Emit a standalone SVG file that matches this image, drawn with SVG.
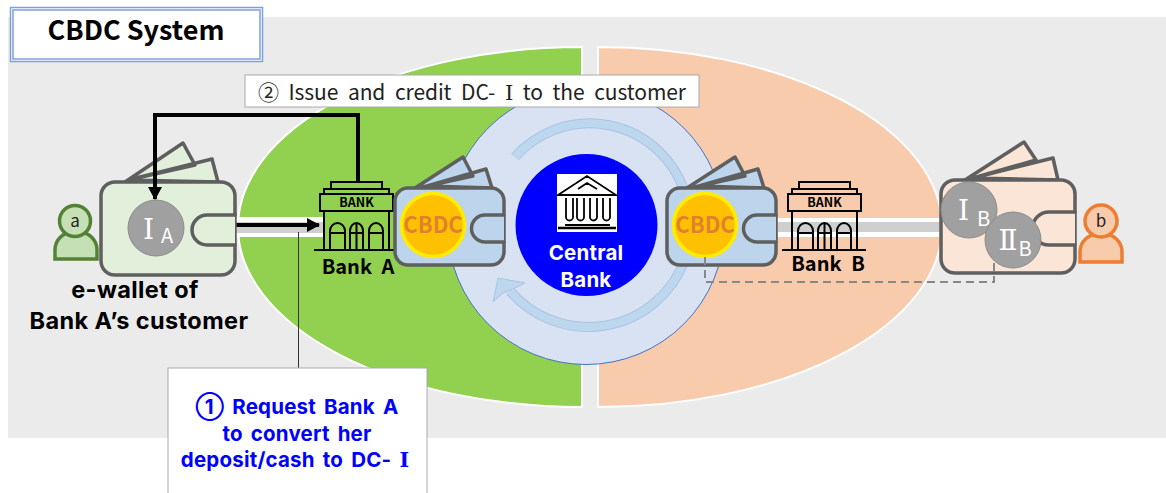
<svg xmlns="http://www.w3.org/2000/svg" width="1166" height="493" viewBox="0 0 1166 493">
<style>
text{font-family:"Noto Sans CJK KR","Noto Sans",sans-serif;text-anchor:middle}
.b{font-weight:700}
.t{font-family:Inter,"Noto Sans CJK KR",sans-serif}
.r{font-family:"DejaVu Serif","Noto Sans CJK KR",serif;font-weight:400}
.rb{font-family:"DejaVu Serif","Noto Sans CJK KR",serif;font-weight:700}
.w{stroke:#5f5f5f;stroke-width:3.500;stroke-linejoin:round;stroke-linecap:round}
.bank{fill:none;stroke:#000;stroke-width:2}
.coinT{font-size:22px;font-weight:700;fill:#e0812f}
.num{fill:#fff;font-size:28px}
.sub{font-size:20px;font-family:"Noto Sans CJK KR","Noto Sans",sans-serif}
.pill{fill:#fff}
.pg{fill:#cfcfcf}
.arcO{fill:none;stroke:#a9c3e3;stroke-width:10}
.arcI{fill:none;stroke:#bdd7ee;stroke-width:8}
</style>
<defs>
<g id="bankIcon">
<rect class="bank" x="331" y="182" width="51" height="7"/>
<rect class="bank" x="324" y="189" width="65" height="5"/>
<rect class="bank" x="320" y="194" width="73" height="17"/>
<path class="bank" d="M324 211V250M389 211V250M314 250H398"/>
<path class="bank" d="M330 250V231a7.500 8 0 0 1 15 0V250M330 233H345M350 250V231a6.500 8 0 0 1 13 0V250M350 233H363M356.500 223V250M369 250V231a7 8 0 0 1 14 0V250M369 233H383"/>
<text x="356.500" y="207" font-size="12.500" font-weight="700">BANK</text>
</g>
<g id="blueWallet">
<path class="w" fill="#bdd5ec" d="M415 188L463 157L473 176L427 186ZM427 186L486 169L492 188Z"/>
<rect class="w" fill="#bdd5ec" x="395" y="188" width="109" height="77" rx="13"/>
<path class="w" fill="#bdd5ec" d="M504 215H485a13.500 13.500 0 0 0 0 27H504"/>
<circle cx="433" cy="225" r="31.500" fill="#ffc000" stroke="#ffec00" stroke-width="3.500"/>
<text class="coinT" x="433" y="233">CBDC</text>
</g>
<marker id="ah" markerUnits="userSpaceOnUse" markerWidth="16" markerHeight="16" refX="12" refY="8" orient="auto"><path d="M0 1L13 8L0 15Z" fill="#000"/></marker>
</defs>

<rect x="8" y="17" width="1158" height="421" fill="#ebebeb"/>

<g id="green-zone"><path d="M582 47A344 180 0 0 0 582 407Z" fill="#92d050" stroke="#fff" stroke-width="2"/></g>
<g id="orange-zone"><path d="M598 47A344 180 0 0 1 598 407Z" fill="#f8cbad" stroke="#fff" stroke-width="2"/></g>

<g id="central-ring">
<circle cx="586" cy="226" r="138.500" fill="#d9e2f3" stroke="#4472c4" stroke-width="1"/>
<path class="arcO" d="M515 157A100 100 0 0 1 684 190"/>
<path class="arcI" d="M515 157A100 100 0 0 1 684 190"/>
<path class="arcO" d="M510 291A103 103 0 0 0 684 262"/>
<path d="M498 278L525 283L515 288L503 293L493 302Z" fill="#bdd7ee" stroke="#a9c3e3" stroke-width="1"/>
<path class="arcI" d="M510 291A103 103 0 0 0 684 262"/>
</g>

<g id="connectors">
<rect class="pill" x="235" y="217" width="90" height="20"/>
<rect class="pg" x="235" y="222" width="90" height="11"/>
<rect class="pill" x="778" y="218" width="163" height="19"/>
<rect class="pg" x="778" y="222" width="163" height="10"/>
<path d="M298.500 232V368" stroke="#333" stroke-width="1" fill="none"/>
<path d="M235 225H319" stroke="#000" stroke-width="4" fill="none" marker-end="url(#ah)"/>
</g>

<g id="title"><rect x="10.500" y="7.500" width="252" height="54" fill="#fff" stroke="#7f9fdb" stroke-width="1.500"/><rect x="13" y="10" width="247" height="49" fill="#fff" stroke="#7f9fdb" stroke-width="1.500"/><text class="b" x="136" y="40" font-size="27">CBDC System</text></g>

<g id="person-a"><path d="M55 259V250a18 18 0 0 1 18-18h6a18 18 0 0 1 18 18V259Z" fill="#c5e0b4" stroke="#548235" stroke-width="3.500"/><circle cx="75" cy="221" r="15.500" fill="#c5e0b4" stroke="#548235" stroke-width="3.500"/><text x="75" y="227" font-size="17" fill="#222">a</text></g>

<g id="wallet-a">
<path class="w" fill="#e2efda" d="M125 182L183 143L195 165L128 180ZM128 180L212 159L218 182Z"/>
<rect class="w" fill="#e2efda" x="101" y="182" width="134" height="93" rx="14"/>
<path class="w" fill="#e2efda" d="M235 215H207a15 15 0 0 0 0 30H235"/>
<circle cx="156" cy="228" r="28" fill="#a0a0a0" stroke="#8c8c8c" stroke-width="1"/>
<text class="num r" x="158" y="239">Ⅰ<tspan class="sub" dx="7" dy="4">A</tspan></text>
</g>
<g id="label-wallet-a"><text class="b t" font-size="23.500" letter-spacing=".4"><tspan x="135" y="298">e-wallet of</tspan><tspan x="139" y="329">Bank A’s customer</tspan></text></g>

<g id="bank-a"><use href="#bankIcon"/><text class="b" x="358" y="274" font-size="20" word-spacing="5">Bank A</text></g>
<g id="wallet-bank-a"><use href="#blueWallet"/></g>

<g id="central-bank"><circle cx="586.500" cy="225" r="71" fill="#0000ff"/>
<rect x="557" y="174" width="60" height="58" fill="#fff"/>
<path d="M558 195L587 176L616 195ZM578 189L587 183L597 189M566 198V217a3.500 3.500 0 0 0 7 0V198M577 198V217a3.500 3.500 0 0 0 7 0V198M590 198V217a3.500 3.500 0 0 0 7 0V198M603 198V217a3.500 3.500 0 0 0 7 0V198M565 225H610" fill="none" stroke="#000" stroke-width="1.800"/>
<path d="M558 228H616" stroke="#000" stroke-width="2.500"/>
<text class="b t" font-size="20.500" fill="#fff" letter-spacing=".2"><tspan x="586" y="260">Central</tspan><tspan x="586" y="287">Bank</tspan></text></g>

<g id="wallet-bank-b"><use href="#blueWallet" x="272"/></g>
<g id="bank-b"><use href="#bankIcon" x="468"/><text class="b" x="828" y="271" font-size="20" word-spacing="5">Bank B</text></g>

<g id="wallet-b">
<path class="w" fill="#fbe5d6" d="M965 180L1024 142L1036 160L973 178ZM973 178L1053 158L1058 180Z"/>
<rect class="w" fill="#fbe5d6" x="941" y="180" width="134" height="93" rx="14"/>
<path class="w" fill="#fbe5d6" d="M1075 212H1049a16 16 0 0 0 0 33H1075"/>
<circle cx="969" cy="210" r="28" fill="#a0a0a0" stroke="#8c8c8c" stroke-width="1"/>
<text class="num r" x="974" y="220">Ⅰ<tspan class="sub" dx="8" dy="6">B</tspan></text>
<circle cx="1013" cy="240" r="28" fill="#a0a0a0" stroke="#8c8c8c" stroke-width="1"/>
<text class="num r" x="1015" y="250">Ⅱ<tspan class="sub" dx="1" dy="6">B</tspan></text>
</g>

<g id="person-b"><path d="M1080 262V252a18 18 0 0 1 18-18h6a18 18 0 0 1 18 18V262Z" fill="#f8cbad" stroke="#ed7d31" stroke-width="3.500"/><circle cx="1101" cy="221" r="16" fill="#f8cbad" stroke="#ed7d31" stroke-width="3.500"/><text x="1101" y="227" font-size="17" fill="#222">b</text></g>

<g id="connectors-top">
<path d="M358 182V115H155V199" stroke="#000" stroke-width="4" fill="none" marker-end="url(#ah)"/>
<path d="M705 257V282H994V262" stroke="#888" stroke-width="2" stroke-dasharray="8 5" fill="none"/>
</g>

<g id="label-issue"><rect x="245" y="75" width="454" height="32" fill="#fff" stroke="#aaa" stroke-width="1"/><text x="472" y="100" font-size="21" textLength="428" word-spacing="5" fill="#222">② Issue and credit DC- <tspan class="r">Ⅰ</tspan> to the customer</text></g>

<g id="label-request"><rect x="168" y="368" width="259" height="130" fill="#fff" stroke="#aaa" stroke-width="1"/>
<text class="b t" font-size="20.500" fill="#0000ff" word-spacing="3" letter-spacing=".2"><tspan x="297" y="414">① Request Bank A</tspan><tspan x="297" y="441">to convert her</tspan><tspan x="295" y="467">deposit/cash to DC- <tspan class="rb">Ⅰ</tspan></tspan></text></g>
</svg>
